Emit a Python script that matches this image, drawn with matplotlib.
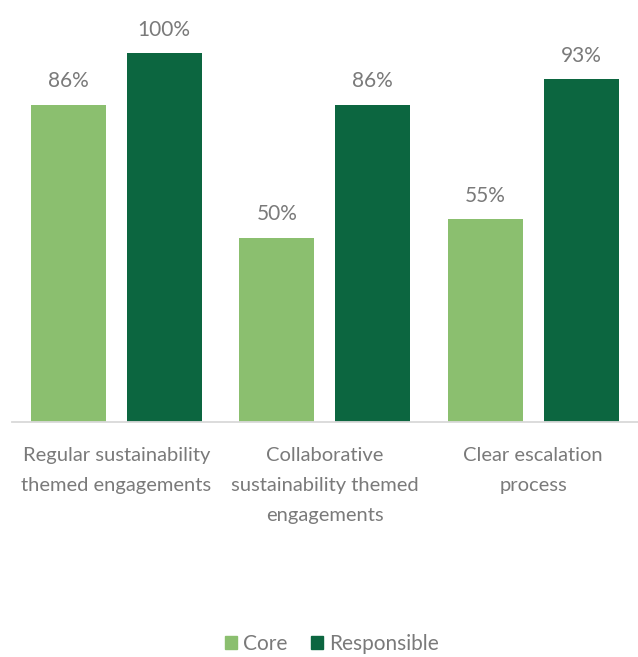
import matplotlib
matplotlib.use("Agg")
import matplotlib.pyplot as plt
import numpy as np
from matplotlib.patches import Patch

categories = ["Regular sustainability\nthemed engagements",
              "Collaborative\nsustainability themed\nengagements",
              "Clear escalation\nprocess"]
series_names = ["Core", "Responsible"]
core = [86, 50, 55]
responsible = [100, 86, 93]

LIGHT = "#8BBF6F"
DARK = "#0C6640"
TEXT = "#7A7A7A"
FS = 14.5

plt.rcParams["font.family"] = ["Lato", "DejaVu Sans"]

W, H = 638, 657
fig = plt.figure(figsize=(W / 100, H / 100), dpi=100)
# axes spans x 12..637.5 px, baseline at y=422 px
ymax = 110
px_per_unit = 369 / 100
top_px = 422 - ymax * px_per_unit
ax = fig.add_axes([12 / W, (H - 422) / H, 625.5 / W, (422 - top_px) / H])

x = np.arange(len(categories))
width = 0.36
offset = 0.23
b1 = ax.bar(x - offset, core, width, color=LIGHT, label=series_names[0])
b2 = ax.bar(x + offset, responsible, width, color=DARK, label=series_names[1])

for bars, vals in ((b1, core), (b2, responsible)):
    for rect, v in zip(bars, vals):
        ax.annotate(f"{v}%", (rect.get_x() + rect.get_width() / 2, v),
                    xytext=(0, 9.5), textcoords="offset points",
                    ha="center", va="bottom", fontsize=FS + 0.5, color=TEXT)

ax.set_xlim(-0.5, 2.5)
ax.set_ylim(0, ymax)
for s in ("top", "right", "left"):
    ax.spines[s].set_visible(False)
ax.spines["bottom"].set_color("#D9D9D9")
ax.spines["bottom"].set_linewidth(1.3)
ax.set_yticks([])
ax.set_xticks(x)
ax.set_xticklabels(categories, fontsize=FS, color=TEXT, linespacing=1.93)
ax.tick_params(axis="x", length=0, pad=18)

handles = [Patch(color=LIGHT, label=series_names[0]),
           Patch(color=DARK, label=series_names[1])]
leg = fig.legend(handles=handles, loc="center", bbox_to_anchor=(332 / W, (H - 644) / H),
                 ncol=2, frameon=False, fontsize=FS + 0.5, handlelength=0.6,
                 handleheight=0.6, handletextpad=0.3, columnspacing=1.1,
                 borderaxespad=0, borderpad=0)
for t in leg.get_texts():
    t.set_color(TEXT)

fig.savefig("out.png", dpi=100)
